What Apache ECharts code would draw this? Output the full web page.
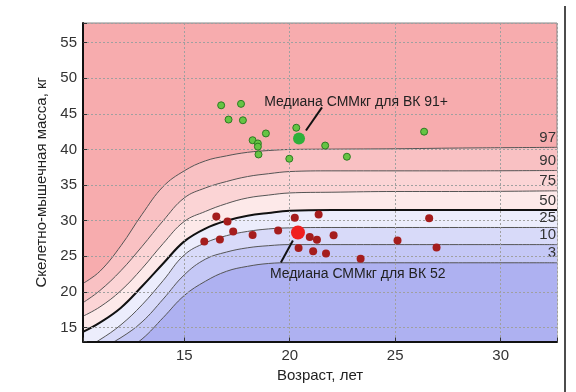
<!DOCTYPE html>
<html><head><meta charset="utf-8">
<script src="https://cdn.jsdelivr.net/npm/echarts@6/dist/echarts.min.js"></script>
<style>html,body{margin:0;padding:0;background:#fff}#c{width:576px;height:392px}</style>
</head><body><div id="c"></div>
<script>
// Percentile curves (age -> skeletal muscle mass, kg)
const ages = [10.2, 11, 12, 13, 14, 15, 16, 17, 18, 19, 20, 22, 25, 28, 32.67];
const p97 = [21.2, 22.9, 26.5, 30.9, 34.8, 37.0, 38.4, 39.1, 39.6, 39.85, 40.0, 40.05, 40.1, 40.2, 40.3];
const p90 = [18.5, 20.2, 23.0, 26.4, 30.0, 33.2, 34.6, 35.5, 36.2, 36.6, 36.9, 37.0, 37.0, 37.0, 37.05];
const p75 = [16.6, 17.9, 20.2, 23.3, 26.8, 29.9, 31.3, 32.4, 33.2, 33.6, 33.9, 34.0, 34.1, 34.1, 34.2];
const p50 = [14.4, 15.7, 17.8, 20.8, 24.0, 27.1, 28.9, 30.0, 30.7, 31.1, 31.4, 31.5, 31.5, 31.5, 31.5];
const p25 = [12.0, 13.3, 15.4, 18.2, 21.6, 25.2, 26.9, 27.9, 28.5, 28.85, 29.0, 29.05, 29.05, 29.05, 29.05];
const p10 = [10.8, 12.0, 13.6, 15.8, 19.0, 22.4, 24.6, 25.6, 26.2, 26.5, 26.65, 26.65, 26.65, 26.65, 26.65];
const p3  = [9.0, 10.0, 11.4, 13.4, 16.4, 19.5, 21.5, 22.9, 23.6, 24.0, 24.1, 24.1, 24.1, 24.1, 24.1];
const percentileNames = ['97', '90', '75', '50', '25', '10', '3'];

// Group "ВК 91+" (green)
const greenAge  = [16.75, 17.69, 17.10, 17.78, 18.87, 18.24, 18.49, 18.49, 18.52, 19.98, 20.31, 21.68, 22.71, 26.37];
const greenMass = [46.2, 46.4, 44.2, 44.1, 42.25, 41.3, 40.85, 40.4, 39.3, 38.7, 43.05, 40.55, 38.98, 42.5];
const greenMedian = [20.44, 41.55];

// Group "ВК 52" (red)
const redAge  = [15.95, 16.52, 16.69, 17.05, 17.32, 18.24, 19.45, 20.24, 21.37, 20.95, 21.29, 22.08, 20.42, 21.11, 21.72, 23.36, 25.11, 26.61, 26.96];
const redMass = [27.08, 30.6, 27.36, 29.9, 28.48, 27.99, 28.62, 30.42, 30.87, 27.71, 27.33, 27.95, 26.17, 25.72, 25.39, 24.65, 27.22, 30.35, 26.24];
const redMedian = [20.39, 28.34];

// Annotations
const noteGreenText = 'Медиана СММкг для ВК 91+';
const noteRedText = 'Медиана СММкг для ВК 52';
const noteGreenAt = [18.79, 46.6];
const noteRedAt = [19.06, 22.46];
const leaderGreen = [[21.53, 45.9], [20.77, 42.67]];
const leaderRed = [[20.15, 27.22], [19.58, 24.14]];

const FONT = '"Liberation Sans", Arial, sans-serif';
const curves = [p97, p90, p75, p50, p25, p10, p3];
const bandColors = ['#F9C1C3', '#FBD4D5', '#FDE9E9', '#ECEDFC', '#D8DAF9', '#C5C8F6', '#AEB1F1'];

const chart = echarts.init(document.getElementById('c'), null, {renderer: 'canvas'});
const isMult5 = v => Math.abs(v / 5 - Math.round(v / 5)) < 1e-6;

const series = curves.map((vals, k) => ({
  type: 'line',
  name: percentileNames[k],
  data: ages.map((a, i) => [a, vals[i]]),
  smooth: 0.4,
  symbol: 'none',
  silent: true,
  z: 2,
  lineStyle: {color: percentileNames[k] === '50' ? '#111' : '#555', width: percentileNames[k] === '50' ? 2 : 1},
  areaStyle: {color: bandColors[k], opacity: 1, origin: 'start'},
  endLabel: {
    show: true, formatter: percentileNames[k], align: 'right', verticalAlign: 'bottom',
    distance: 0, offset: [-1, -2], fontSize: 15, fontFamily: FONT, color: '#333'
  }
}));

series.push({
  type: 'scatter', z: 6, symbolSize: 7,
  data: greenAge.map((a, i) => [a, greenMass[i]]),
  itemStyle: {color: '#66c443', borderColor: '#2c7a22', borderWidth: 1, opacity: 1},
  markLine: {
    silent: true, symbol: ['none', 'none'], label: {show: false},
    lineStyle: {color: '#111', width: 2, type: 'solid'},
    data: [[{coord: leaderGreen[0]}, {coord: leaderGreen[1]}], [{coord: leaderRed[0]}, {coord: leaderRed[1]}]]
  }
});
series.push({
  type: 'scatter', z: 6, symbolSize: 8,
  data: redAge.map((a, i) => [a, redMass[i]]),
  itemStyle: {color: '#a51d1d', opacity: 1}
});
series.push({
  type: 'scatter', z: 7, symbolSize: 12,
  data: [greenMedian],
  itemStyle: {color: '#2fb03a', opacity: 1}
});
series.push({
  type: 'scatter', z: 7, symbolSize: 14,
  data: [redMedian],
  itemStyle: {color: '#f01f1f', opacity: 1}
});

const axisCommon = {
  type: 'value', z: 3, minInterval: 5, maxInterval: 5,
  nameLocation: 'middle',
  nameTextStyle: {fontSize: 15, fontFamily: FONT, color: '#222'},
  axisLine: {show: true, lineStyle: {color: '#111', width: 2}},
  axisTick: {show: true, inside: true, length: 4, lineStyle: {color: '#333'}},
  axisLabel: {fontSize: 15, fontFamily: FONT, color: '#333', formatter: v => (isMult5(v) ? String(v) : '')},
  splitLine: {show: true, lineStyle: {color: '#a0a0a0', type: [2, 2], width: 1}}
};

chart.setOption({
  animation: false,
  backgroundColor: '#fff',
  grid: {left: 83, right: 19, top: 23, bottom: 50.5, show: true, backgroundColor: '#F7ACAE', borderColor: '#888', borderWidth: 1},
  xAxis: Object.assign({}, axisCommon, {min: 10.2, max: 32.67, name: 'Возраст, лет', nameGap: 24,
    axisLabel: Object.assign({}, axisCommon.axisLabel, {margin: 7})}),
  yAxis: Object.assign({}, axisCommon, {min: 13.05, max: 57.75, name: 'Скелетно-мышечная масса, кг', nameGap: 28,
    axisLabel: Object.assign({}, axisCommon.axisLabel, {margin: 6})}),
  series: series
});

const g1 = chart.convertToPixel({gridIndex: 0}, noteGreenAt);
const g2 = chart.convertToPixel({gridIndex: 0}, noteRedAt);
chart.setOption({
  graphic: [
    {type: 'text', x: g1[0], y: g1[1], z: 10, style: {text: noteGreenText, fontSize: 14, fontFamily: FONT, fill: '#222', verticalAlign: 'middle', align: 'left'}},
    {type: 'text', x: g2[0], y: g2[1], z: 10, style: {text: noteRedText, fontSize: 14, fontFamily: FONT, fill: '#222', verticalAlign: 'middle', align: 'left'}},
    {type: 'line', z: 10, shape: {x1: 565, y1: 6, x2: 565, y2: 392}, style: {stroke: '#111', lineWidth: 1.5}}
  ]
});
</script>
</body></html>
